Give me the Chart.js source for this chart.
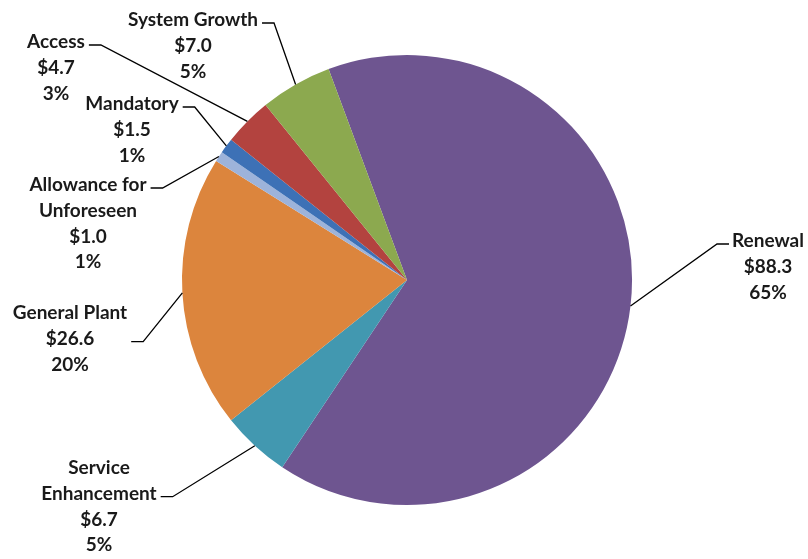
<!DOCTYPE html>
<html>
<head>
<meta charset="utf-8">
<script src="https://cdn.jsdelivr.net/npm/chart.js@4/dist/chart.umd.min.js"></script>
<style>
  html, body { margin: 0; padding: 0; background: #fff; }
  #wrap { width: 808px; height: 559px; position: relative; }
</style>
</head>
<body>
<div id="wrap"><canvas id="pieChart"></canvas></div>
<script>
// categories in drawing order (clockwise, starting with Renewal)
const categories = ['Renewal', 'Service Enhancement', 'General Plant', 'Allowance for Unforeseen', 'Mandatory', 'Access', 'System Growth'];
// how each category name is broken over lines in its label
const nameLines = [['Renewal'], ['Service', 'Enhancement'], ['General Plant'], ['Allowance for', 'Unforeseen'], ['Mandatory'], ['Access'], ['System Growth']];
const values = [88.3, 6.7, 26.6, 1.0, 1.5, 4.7, 7.0];
const colors = ['#6e5590', '#4298b0', '#dc853d', '#9db3da', '#3d71b6', '#b3433f', '#8ca94f'];

// where each label block sits: text centre x, first line centre y, line the leader meets, side of the leader
const labelPos = [
    { x: 768, y: 241, line: 0, side: 'left' },
    { x: 99,  y: 468, line: 1, side: 'right' },
    { x: 70,  y: 313, line: 1, side: 'right' },
    { x: 88,  y: 185, line: 0, side: 'right' },
    { x: 132, y: 104, line: 0, side: 'right' },
    { x: 56,  y: 42,  line: 0, side: 'right' },
    { x: 193, y: 20,  line: 0, side: 'right' }
];

const total = values.reduce((a, b) => a + b, 0);
const lineH = 25.7;
const labelFont = 'bold 19px Lato, "Open Sans", sans-serif';

const leaderLabels = {
    id: 'leaderLabels',
    afterDraw(chart) {
        const ctx = chart.ctx;
        const meta = chart.getDatasetMeta(0);
        ctx.save();
        ctx.font = labelFont;
        ctx.textAlign = 'center';
        ctx.textBaseline = 'middle';
        meta.data.forEach((arc, i) => {
            const p = arc.getProps(['x', 'y', 'startAngle', 'endAngle', 'outerRadius'], true);
            const mid = (p.startAngle + p.endAngle) / 2;
            const ex = p.x + Math.cos(mid) * p.outerRadius;
            const ey = p.y + Math.sin(mid) * p.outerRadius;

            const pct = Math.round(values[i] / total * 100);
            const lines = nameLines[i].concat(['$' + values[i].toFixed(1), pct + '%']);
            const pos = labelPos[i];

            let maxW = 0;
            lines.forEach(t => { maxW = Math.max(maxW, ctx.measureText(t).width); });
            const attachW = ctx.measureText(lines[pos.line]).width;
            const w = pos.line === 0 ? attachW : maxW;
            const ly = pos.y + pos.line * lineH + 3;
            let x1, x2;
            if (pos.side === 'right') {
                x1 = pos.x + w / 2 + 4;
                x2 = x1 + 12;
            } else {
                x1 = pos.x - w / 2 - 3;
                x2 = x1 - 12;
            }

            ctx.strokeStyle = '#000';
            ctx.lineWidth = 1.3;
            ctx.beginPath();
            ctx.moveTo(x1, ly);
            ctx.lineTo(x2, ly);
            ctx.lineTo(ex, ey);
            ctx.stroke();

            ctx.fillStyle = '#1a1a1a';
            lines.forEach((t, k) => {
                ctx.fillText(t, pos.x, pos.y + k * lineH);
            });
        });
        ctx.restore();
    }
};

const pieChart = new Chart(document.getElementById('pieChart').getContext('2d'), {
    type: 'pie',
    data: {
        labels: categories,
        datasets: [{
            data: values,
            backgroundColor: colors,
            borderWidth: 0
        }]
    },
    options: {
        responsive: true,
        maintainAspectRatio: false,
        animation: false,
        rotation: -20.4,
        layout: {
            padding: { left: 182, right: 176, top: 55, bottom: 54 }
        },
        plugins: {
            legend: { display: false },
            tooltip: { enabled: false }
        }
    },
    plugins: [leaderLabels]
});
</script>
</body>
</html>
